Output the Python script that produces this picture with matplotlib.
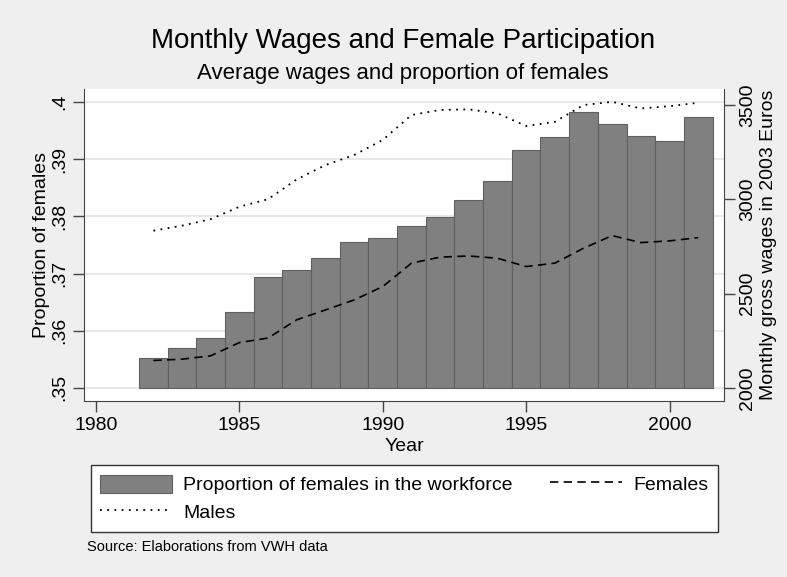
import matplotlib.pyplot as plt
from matplotlib.patches import Patch
from matplotlib.lines import Line2D

plt.rcParams['font.family'] = ['Liberation Sans', 'DejaVu Sans']

# data
years = list(range(1982, 2002))
prop_females = [0.3552, 0.3570, 0.3587, 0.3632, 0.3694, 0.3706, 0.3727, 0.3755, 0.3762, 0.3783,
                0.3799, 0.3829, 0.3861, 0.3916, 0.3938, 0.3983, 0.3961, 0.3941, 0.3931, 0.3974]
wage_females = [2146, 2153, 2171, 2241, 2265, 2362, 2414, 2467, 2538, 2662,
                2694, 2700, 2688, 2644, 2662, 2741, 2808, 2771, 2780, 2797]
wage_males = [2834, 2861, 2895, 2961, 3001, 3106, 3182, 3235, 3315, 3447,
              3474, 3477, 3456, 3389, 3411, 3500, 3517, 3482, 3494, 3512]

x_ticks = [1980, 1985, 1990, 1995, 2000]
left_ticks = [0.35, 0.36, 0.37, 0.38, 0.39, 0.40]
left_labels = ['.35', '.36', '.37', '.38', '.39', '.4']
right_ticks = [2000, 2500, 3000, 3500]
bar_base = 0.35

bg = '#efefef'
fig = plt.figure(figsize=(7.87, 5.77), dpi=100, facecolor=bg)
ax = fig.add_axes([84/787, 1-400.5/577, (724-84)/787, (400.5-89)/577])
ax.set_facecolor('white')

# grid
ax.set_yticks(left_ticks)
ax.set_yticklabels(left_labels)
ax.yaxis.grid(True, color='#e6e6e6', linewidth=1.3)
ax.set_axisbelow(True)

# bars
ax.bar(years, [p - bar_base for p in prop_females], bottom=bar_base, width=1.0,
       color='#808080', edgecolor='#606060', linewidth=0.8)
ax.set_ylim(0.3478, 0.40227)
ax.set_xlim(1979.58, 2001.9)
ax.set_xticks(x_ticks)

# lines on right axis
ax2 = ax.twinx()
ax2.plot(years, wage_females, color='black', linewidth=1.2, linestyle=(0, (5, 3.2)))
ax2.plot(years, wage_males, color='black', linewidth=1.3, linestyle=(0, (1, 3)))
ax2.set_ylim(1934, 3585)
ax2.set_yticks(right_ticks)

for a in (ax, ax2):
    a.spines['top'].set_visible(False)
ax.spines['right'].set_visible(False)
ax2.spines['left'].set_visible(False)
ax2.spines['bottom'].set_visible(False)
for s in ('left', 'bottom'):
    ax.spines[s].set_color('#444444')
ax2.spines['right'].set_color('#444444')

ax.tick_params(axis='y', direction='out', length=8, width=1, pad=3, labelsize=14,
               labelrotation=90, color='#444444')
ax.tick_params(axis='x', direction='out', length=8, width=1, pad=4, labelsize=14, color='#444444')
ax2.tick_params(axis='y', direction='out', length=8, width=1, pad=3, labelsize=14,
                labelrotation=90, color='#444444')
for lab in ax.get_yticklabels() + ax2.get_yticklabels():
    lab.set_va('center')

ax.set_xlabel('Year', fontsize=14, labelpad=3)
ax.set_ylabel('Proportion of females', fontsize=14, labelpad=1)
ax2.set_ylabel('Monthly gross wages in 2003 Euros', fontsize=14, labelpad=3)

# titles
fig.text(403/787, 1-48.3/577, 'Monthly Wages and Female Participation', fontsize=20,
         ha='center', va='baseline')
fig.text(403/787, 1-79.3/577, 'Average wages and proportion of females', fontsize=16,
         ha='center', va='baseline')

# legend
handles = [Patch(facecolor='#808080', edgecolor='#606060', linewidth=0.8),
           Line2D([], [], color='black', linewidth=1.3, linestyle=(0, (1, 3))),
           Line2D([], [], color='black', linewidth=1.2, linestyle=(0, (5, 3.2)))]
labels = ['Proportion of females in the workforce', 'Males', 'Females']
leg = fig.legend(handles, labels, loc='upper left', ncol=2,
                 bbox_to_anchor=(90.7/787, 1-465/577),
                 fontsize=14, handlelength=3.7, handleheight=1.03, handletextpad=0.55,
                 labelspacing=0.42, borderpad=0.5, borderaxespad=0, columnspacing=1.95,
                 fancybox=False, framealpha=1, edgecolor='#333333')
leg.get_frame().set_linewidth(1)

fig.text(87.3/787, 1-547/577, 'Source: Elaborations from VWH data', fontsize=10.5, va='center')

fig.savefig('out.png', dpi=100, facecolor=bg)
